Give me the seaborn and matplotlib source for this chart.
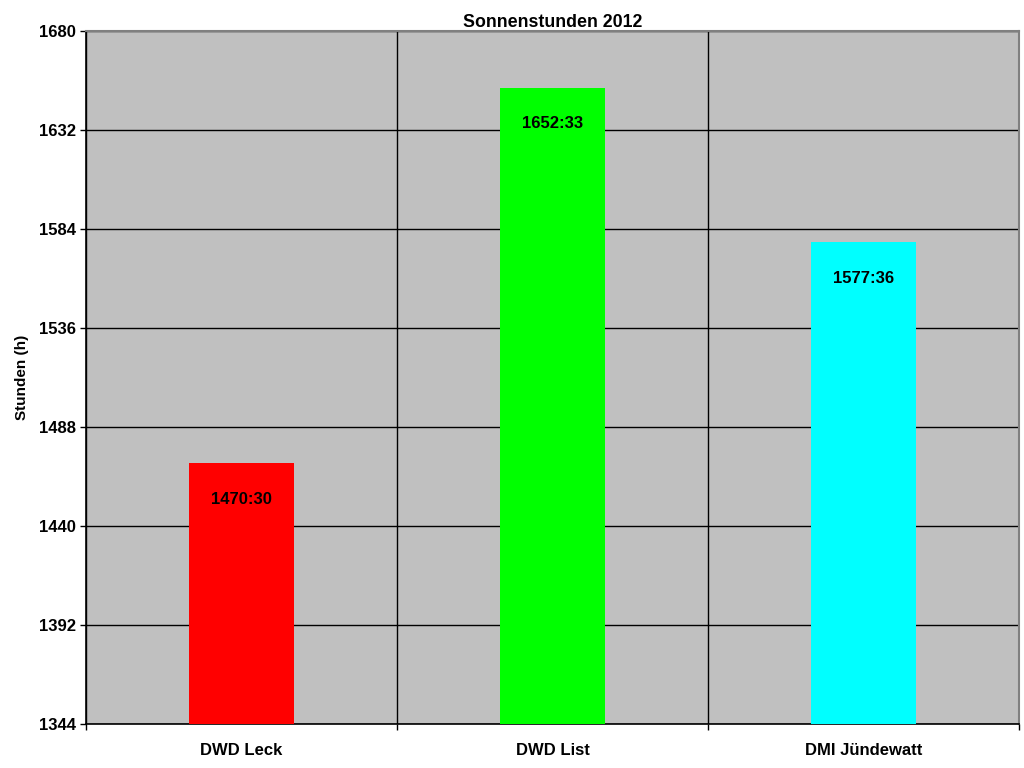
import pandas as pd
import seaborn as sns
import matplotlib.pyplot as plt

stationen = ['DWD Leck', 'DWD List', 'DMI Jündewatt']
stunden = [1470, 1652, 1577]
minuten = [30, 33, 36]
farben = ['#FF0000', '#00FF00', '#00FFFF']
yticks = [1344, 1392, 1440, 1488, 1536, 1584, 1632, 1680]

df = pd.DataFrame({'station': stationen,
                   'sonne': [h + m / 60 for h, m in zip(stunden, minuten)],
                   'label': [f'{h}:{m:02d}' for h, m in zip(stunden, minuten)]})

sns.set_style('white')
plt.rcParams['font.family'] = ['Liberation Sans', 'DejaVu Sans']
plt.rcParams['font.weight'] = 'bold'
plt.rcParams['text.color'] = 'black'
plt.rcParams['xtick.color'] = 'black'
plt.rcParams['ytick.color'] = 'black'
plt.rcParams['axes.labelcolor'] = 'black'

fig = plt.figure(figsize=(10.24, 7.68), dpi=100)
ax = fig.add_axes([86 / 1024, 1 - 724 / 768, 933 / 1024, 693 / 768])

g = sns.barplot(data=df, x='station', y='sonne', hue='station', palette=farben,
                width=0.34, saturation=1, legend=False, linewidth=0, ax=ax, zorder=3)

ax.set_facecolor('#C0C0C0')
ax.set_ylim(1344, 1680)
ax.set_xlim(-0.5, 2.5)
ax.set_yticks(yticks)
ax.set_yticklabels([str(t) for t in yticks], fontsize=12, fontweight='bold')
ax.set_xticks([0, 1, 2])
ax.set_xticklabels(stationen, fontsize=12, fontweight='bold')
ax.tick_params(axis='x', which='major', bottom=True, length=0, pad=14)
ax.set_xticks([-0.5, 0.5, 1.5, 2.5], minor=True)
ax.tick_params(axis='x', which='minor', bottom=True, length=4, width=1,
               color='black', direction='out')
ax.tick_params(axis='y', left=True, length=4, width=1, color='black',
               direction='out', pad=3)
ax.grid(axis='y', color='black', linewidth=1, zorder=1)
ax.grid(axis='x', which='minor', color='black', linewidth=1, zorder=1)
ax.set_axisbelow(True)

for s in ['left', 'bottom']:
    ax.spines[s].set_color('black')
    ax.spines[s].set_linewidth(1.2)
for s in ['top', 'right']:
    ax.spines[s].set_color('#808080')
    ax.spines[s].set_linewidth(1.5)

for bar, lab in zip(g.patches, df['label']):
    ax.annotate(lab, (bar.get_x() + bar.get_width() / 2, bar.get_height()),
                xytext=(0, -26), textcoords='offset points', ha='center', va='center',
                fontsize=12, fontweight='bold', zorder=4)

ax.set_xlabel('')
ax.set_ylabel('Stunden (h)', fontsize=11, fontweight='bold', labelpad=7.5)
ax.set_title('Sonnenstunden 2012', fontsize=12.8, fontweight='bold', pad=3)

fig.savefig('out.png', dpi=100)
